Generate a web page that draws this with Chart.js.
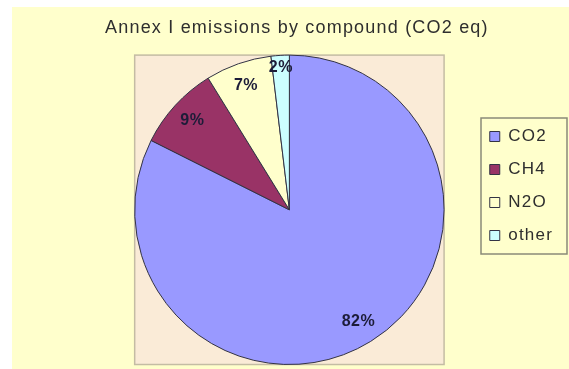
<!DOCTYPE html>
<html>
<head>
<meta charset="utf-8">
<script src="https://cdn.jsdelivr.net/npm/chart.js@4.4.1/dist/chart.umd.min.js"></script>
<style>
  html, body { margin: 0; padding: 0; background: #fff; }
  #wrap { position: absolute; left: 12px; top: 7px; width: 557px; height: 362px; background: #ffffcc; }
</style>
</head>
<body>
<div id="wrap"><canvas id="chart" width="557" height="362"></canvas></div>
<script>
const compounds = ['CO2', 'CH4', 'N2O', 'other'];
const shares = [82.4, 8.8, 6.9, 1.9];
const sliceColors = ['#9999ff', '#993366', '#ffffcc', '#ccffff'];

const FONT = '"Liberation Sans", Arial, sans-serif';

// the old slide draws its text wide, so space the glyphs out a little
const spacing = {
  id: 'spacing',
  beforeUpdate(chart) { chart.ctx.letterSpacing = '1.2px'; }
};

// beige square behind the pie
const plotBox = {
  id: 'plotBox',
  beforeDatasetsDraw(chart) {
    const arc = chart.getDatasetMeta(0).data[0];
    if (!arc) return;
    const { x, y, outerRadius: r } = arc.getProps(['x', 'y', 'outerRadius'], true);
    const ctx = chart.ctx;
    ctx.save();
    ctx.fillStyle = '#faebd7';
    ctx.fillRect(x - r, y - r, 2 * r, 2 * r);
    ctx.strokeStyle = '#c4bca4';
    ctx.lineWidth = 1.5;
    ctx.strokeRect(x - r, y - r, 2 * r, 2 * r);
    ctx.restore();
  }
};

// percentage labels near the rim of each slice
const sliceLabels = {
  id: 'sliceLabels',
  afterDatasetsDraw(chart) {
    const ctx = chart.ctx;
    const total = shares.reduce((a, b) => a + b, 0);
    ctx.save();
    ctx.letterSpacing = '0.5px';
    ctx.font = 'bold 16px ' + FONT;
    ctx.fillStyle = '#1c1c38';
    ctx.textAlign = 'center';
    ctx.textBaseline = 'middle';
    chart.getDatasetMeta(0).data.forEach((arc, i) => {
      const p = arc.getProps(['x', 'y', 'startAngle', 'endAngle', 'outerRadius'], true);
      const mid = (p.startAngle + p.endAngle) / 2;
      const pct = shares[i] / total * 100;
      const k = pct < 5 ? 0.92 : 0.85;
      ctx.fillText(Math.round(pct) + '%',
        p.x + Math.cos(mid) * p.outerRadius * k,
        p.y + Math.sin(mid) * p.outerRadius * k);
    });
    ctx.restore();
  }
};

// thin frame round the legend entries
const legendFrame = {
  id: 'legendFrame',
  afterDraw(chart) {
    const boxes = chart.legend && chart.legend.legendHitBoxes;
    if (!boxes || !boxes.length) return;
    const left = Math.min(...boxes.map(b => b.left)) - 9;
    const top = Math.min(...boxes.map(b => b.top)) - 10;
    const right = Math.max(...boxes.map(b => b.left + b.width)) + 14;
    const bottom = Math.max(...boxes.map(b => b.top + b.height)) + 10;
    const ctx = chart.ctx;
    ctx.save();
    ctx.strokeStyle = '#8a8a78';
    ctx.lineWidth = 1.5;
    ctx.strokeRect(Math.round(left), Math.round(top), Math.round(right - left), Math.round(bottom - top));
    ctx.restore();
  }
};

new Chart(document.getElementById('chart'), {
  type: 'pie',
  data: {
    labels: compounds,
    datasets: [{
      data: shares,
      backgroundColor: sliceColors,
      borderColor: '#333344',
      borderWidth: 1
    }]
  },
  options: {
    responsive: false,
    animation: false,
    events: [],
    layout: { padding: { left: 93, right: 6, top: 0, bottom: 4 } },
    plugins: {
      title: {
        display: true,
        text: 'Annex I emissions by compound (CO2 eq)',
        align: 'start',
        color: '#2e2e2e',
        font: { family: FONT, size: 18, weight: 'normal' },
        padding: { top: 10, bottom: 16 }
      },
      legend: {
        position: 'right',
        labels: {
          color: '#2e2e2e',
          font: { family: FONT, size: 17 },
          boxWidth: 10,
          boxHeight: 10,
          padding: 16
        }
      },
      tooltip: { enabled: false }
    }
  },
  plugins: [spacing, plotBox, sliceLabels, legendFrame]
});
</script>
</body>
</html>
